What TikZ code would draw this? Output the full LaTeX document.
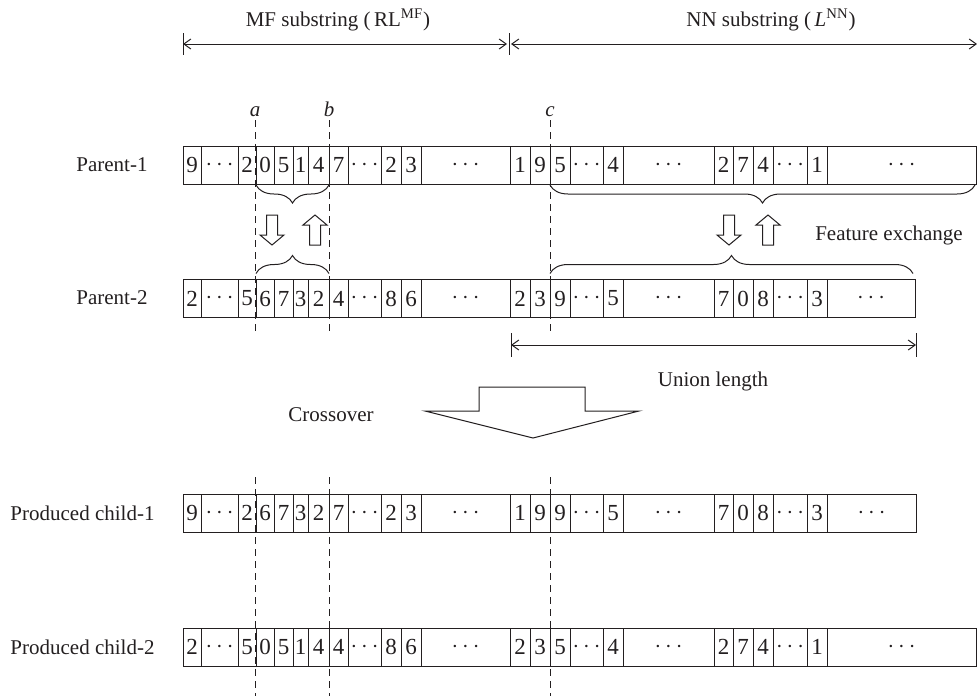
\documentclass[tikz,border=0pt]{standalone}
\usepackage{fontspec}
\setmainfont{Liberation Serif}
\usepackage{tikz}
\usetikzlibrary{arrows.meta,decorations.pathreplacing}
\definecolor{ink}{HTML}{231F20}
\tikzset{cell/.style={draw=ink,line width=.5pt,minimum height=19pt,inner sep=0pt,outer sep=0pt,text=ink,font=\fontsize{11.5}{12}\selectfont},dim/.style={{Straight Barb[length=3.5pt,width=5pt]}-{Straight Barb[length=3.5pt,width=5pt]},draw=ink,line width=.5pt},lab/.style={text=ink,inner sep=1pt}}
\newcommand{\dd}{$\cdots$}
\def\cuts{{183,201,238,256,274,293,308,329,348,381,401,421,510,530,550,570,603,623,714,733,753,773,807,827,976}}
\newcommand{\chrom}[4]{%
\foreach \v [count=\i from 0] in {#4}{
  \pgfmathsetmacro\xl{\cuts[\i]}
  \pgfmathsetmacro\xr{ifthenelse(\i==23,#3,\cuts[\i+1])}
  \pgfmathsetmacro\cw{(\xr-\xl)/2}
  \node[cell,minimum width=\cw pt] (#1-\i) at ({(\xl+\xr)/2},#2) {\v};
}}

\begin{document}
\begin{tikzpicture}[x=.5pt,y=-.5pt,font=\fontsize{10.5}{12}\selectfont,line width=.5pt,
cut/.style={draw=ink,dash pattern=on 3.5pt off 2.5pt},
brc/.style={draw=ink,decorate,decoration={brace,amplitude=9pt}},
hollow/.style={draw=ink,fill=white,line join=miter}]
\useasboundingbox (0,0) rectangle (977,696);
\node[lab] (mf) at (338,20) {MF substring (\,RL\textsuperscript{MF})};
\node[lab] (nn) at (771,20) {NN substring (\,\textit{L}\textsuperscript{NN})};
\coordinate (h0) at (183,44);
\coordinate (h1) at (509,44);
\coordinate (h2) at (977,44);
\draw[dim,shorten >=1pt] (h0) -- (h1);
\draw[dim,shorten <=1pt] (h1) -- (h2);
\foreach \p in {h0,h1}{\draw[draw=ink] (\p) ++(0,-11) -- ++(0,22);}
\node[lab,anchor=east] (par1) at (150,165) {Parent-1};
\node[lab,anchor=east] (par2) at (150,298) {Parent-2};
\node[lab,anchor=east] (ch1) at (157,513) {Produced child-1};
\node[lab,anchor=east] (ch2) at (157,647) {Produced child-2};
\chrom{p1}{165}{976}{9,\dd,2,0,5,1,4,7,\dd,2,3,\dd,1,9,5,\dd,4,\dd,2,7,4,\dd,1,\dd}
\chrom{p2}{298.5}{915}{2,\dd,5,6,7,3,2,4,\dd,8,6,\dd,2,3,9,\dd,5,\dd,7,0,8,\dd,3,\dd}
\chrom{c1}{513}{916}{9,\dd,2,6,7,3,2,7,\dd,2,3,\dd,1,9,9,\dd,5,\dd,7,0,8,\dd,3,\dd}
\chrom{c2}{647}{976}{2,\dd,5,0,5,1,4,4,\dd,8,6,\dd,2,3,5,\dd,4,\dd,2,7,4,\dd,1,\dd}
\foreach \n/\x in {a/255,b/329,c/550}{
  \node[lab,anchor=base,font=\fontsize{10.5}{12}\selectfont\itshape] (\n) at (\x,116) {\n};
  \coordinate (\n1) at (\x,120);
  \coordinate (\n2) at (\x,335);
  \coordinate (\n3) at (\x,477);
  \coordinate (\n4) at (\x,696);
  \draw[cut] (\n1) -- (\n2) (\n3) -- (\n4);
}
\draw[brc,decoration={mirror}] ([yshift=-.5pt]p1-3.south west) -- ([yshift=-.5pt]p1-6.south east);
\draw[brc,decoration={mirror}] ([yshift=-.5pt]p1-14.south west) -- ([yshift=-.5pt,xshift=-.5pt]p1-23.south east);
\draw[brc] ([yshift=3pt]p2-3.north west) -- ([yshift=3pt]p2-6.north east);
\draw[brc] ([yshift=3pt]p2-14.north west) -- ([yshift=3pt,xshift=-1pt]p2-23.north east);
\foreach \x/\s in {272/1,315/-1,729/1,768/-1}{
  \draw[hollow] ({\x-5.5},{230-15*\s}) -- ({\x+5.5},{230-15*\s}) -- ({\x+5.5},{230+5*\s}) -- ({\x+12},{230+5*\s}) -- (\x,{230+15*\s}) -- ({\x-12},{230+5*\s}) -- ({\x-5.5},{230+5*\s}) -- cycle;
}
\node[lab] (fx) at (889,235) {Feature exchange};
\coordinate (u0) at (511,345);
\coordinate (u1) at (916,345);
\draw[dim] (u0) -- (u1);
\foreach \p in {u0,u1}{\draw[draw=ink] (\p) ++(0,-12) -- ++(0,24);}
\node[lab] (ul) at (713,381) {Union length};
\draw[hollow] (479,387) -- (585,387) -- (585,411) -- (639,411) -- (533,438) -- (425,411) -- (479,411) -- cycle;
\node[lab] (co) at (331,415) {Crossover};
\end{tikzpicture}
\end{document}
